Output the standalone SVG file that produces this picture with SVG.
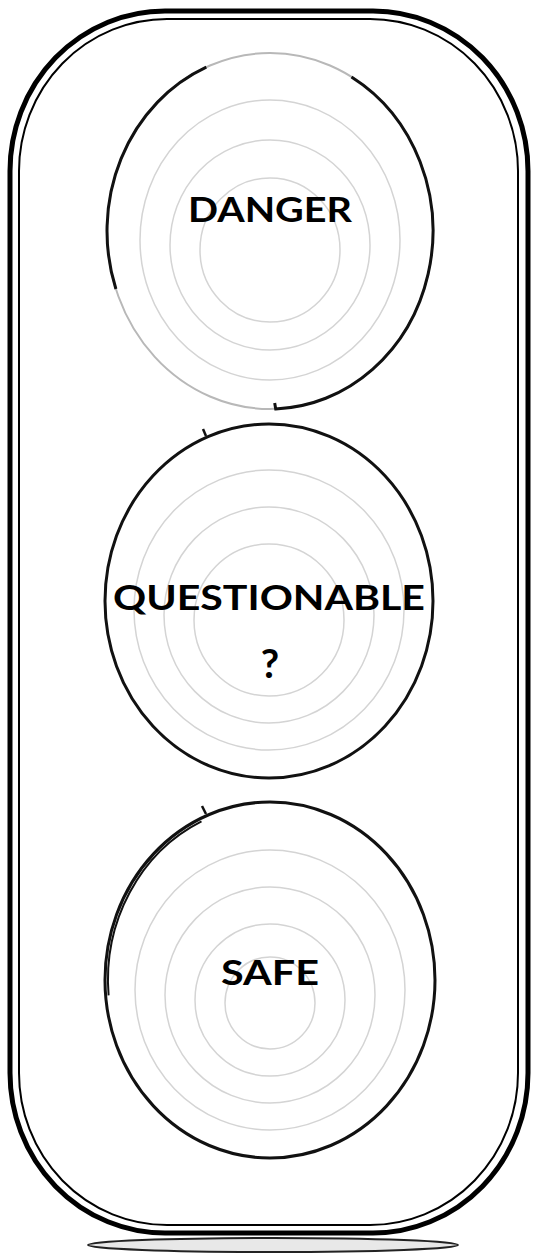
<svg xmlns="http://www.w3.org/2000/svg" width="538" height="1257" viewBox="0 0 538 1257">
<style>
.bg{fill:#ffffff}
.house{fill:none;stroke:#000}
.ring{fill:none;stroke:#d4d4d4;stroke-width:1.5}
.ghost{fill:none;stroke:#b8b8b8;stroke-width:2}
.lens{fill:none;stroke:#111;stroke-width:3}
.lbl{font-family:"Lato","Open Sans","Liberation Sans",sans-serif;font-weight:bold;fill:#000;text-anchor:middle}
</style>
<rect class="bg" x="0" y="0" width="538" height="1257"/>
<g id="base">
<ellipse cx="273" cy="1245" rx="185" ry="7" fill="#e8e8e8" stroke="#222" stroke-width="2"/>
</g>
<g id="housing">
<rect class="house" x="10" y="11" width="518" height="1222" rx="155" ry="160" stroke-width="5"/>
<rect class="house" x="19" y="19" width="499" height="1206" rx="148" ry="152" stroke-width="2"/>
</g>
<g id="danger">
<ellipse class="ring" cx="270" cy="240" rx="130" ry="140"/>
<ellipse class="ring" cx="270" cy="245" rx="100" ry="105"/>
<ellipse class="ring" cx="270" cy="250" rx="70" ry="72"/>
<ellipse class="ghost" cx="270" cy="231" rx="163" ry="178"/>
<path class="lens" d="M206.3,67.2 A163,178 0 0 0 115.9,289"/>
<path class="lens" d="M351.5,76.9 A163,178 0 0 1 275.7,408.9 l-1,-6"/>
<text class="lbl" x="270" y="222" font-size="35" textLength="164" lengthAdjust="spacingAndGlyphs">DANGER</text>
</g>
<g id="questionable">
<ellipse class="ring" cx="269" cy="610" rx="135" ry="140"/>
<ellipse class="ring" cx="269" cy="615" rx="105" ry="108"/>
<ellipse class="ring" cx="269" cy="620" rx="75" ry="76"/>
<ellipse class="lens" cx="269" cy="601" rx="164" ry="177"/>
<path d="M203,429 l3,7" stroke="#111" stroke-width="2.5" fill="none"/>
<text class="lbl" x="269" y="610" font-size="35" textLength="312" lengthAdjust="spacingAndGlyphs">QUESTIONABLE</text>
<text class="lbl" x="270" y="678" font-size="40">?</text>
</g>
<g id="safe">
<ellipse class="ring" cx="270" cy="990" rx="135" ry="140"/>
<ellipse class="ring" cx="270" cy="995" rx="105" ry="108"/>
<ellipse class="ring" cx="270" cy="1000" rx="75" ry="76"/>
<ellipse class="ring" cx="270" cy="1003" rx="45" ry="46"/>
<ellipse class="lens" cx="270" cy="980" rx="165" ry="178"/>
<path d="M201.5,821.4 A162,175 0 0 0 108.6,995.3" stroke="#111" stroke-width="2" fill="none"/>
<path d="M202,806 l4,8" stroke="#111" stroke-width="2.5" fill="none"/>
<text class="lbl" x="270" y="985" font-size="35" textLength="98" lengthAdjust="spacingAndGlyphs">SAFE</text>
</g>
</svg>
